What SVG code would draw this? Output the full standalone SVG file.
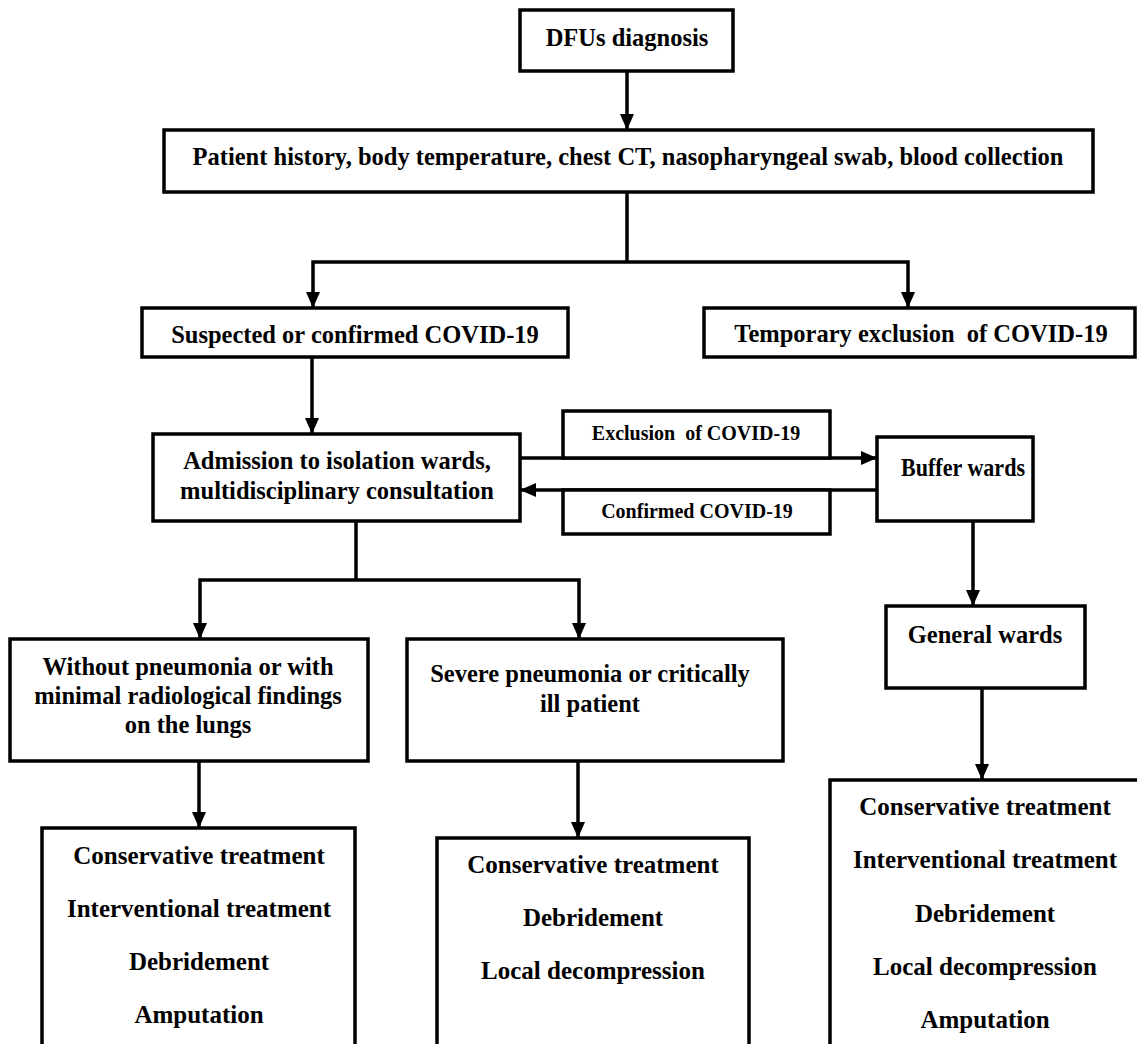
<svg xmlns="http://www.w3.org/2000/svg" width="1137" height="1044" viewBox="0 0 1137 1044">
<style>
.box{fill:#fff;stroke:#000;stroke-width:3.5}
.t{font-family:"Liberation Serif","Times New Roman",serif;font-weight:bold;font-size:24.5px;fill:#000;text-anchor:middle;white-space:pre}
.s{font-size:20px}
.r{font-size:25px}
.c{fill:none;stroke:#000;stroke-width:3.5}
</style>
<defs>
<marker id="ah" markerUnits="userSpaceOnUse" markerWidth="16" markerHeight="16" viewBox="0 0 16 16" refX="16" refY="8" orient="auto">
<path d="M0,1 L16,8 L0,15 z" fill="#000"/>
</marker>
</defs>
<rect width="1137" height="1044" fill="#fff"/>
<g id="connectors">
<path class="c" d="M627,71 V130" marker-end="url(#ah)"/>
<path class="c" d="M627,192 V262"/>
<path class="c" d="M627,262 H313 V308" marker-end="url(#ah)"/>
<path class="c" d="M627,262 H908 V308" marker-end="url(#ah)"/>
<path class="c" d="M312,357 V434" marker-end="url(#ah)"/>
<path class="c" d="M520,458 H877" marker-end="url(#ah)"/>
<path class="c" d="M877,490 H520" marker-end="url(#ah)"/>
<path class="c" d="M973,521 V606" marker-end="url(#ah)"/>
<path class="c" d="M356,521 V580"/>
<path class="c" d="M356,580 H200 V639" marker-end="url(#ah)"/>
<path class="c" d="M356,580 H579 V639" marker-end="url(#ah)"/>
<path class="c" d="M982,688 V780" marker-end="url(#ah)"/>
<path class="c" d="M199,761 V828" marker-end="url(#ah)"/>
<path class="c" d="M578,761 V838" marker-end="url(#ah)"/>
</g>
<g id="dfus">
<rect class="box" x="520" y="10" width="213" height="61"/>
<text class="t" x="627" y="46">DFUs diagnosis</text>
</g>
<g id="patient">
<rect class="box" x="164" y="130" width="929" height="62"/>
<text class="t" x="628" y="165">Patient history, body temperature, chest CT, nasopharyngeal swab, blood collection</text>
</g>
<g id="suspected">
<rect class="box" x="142" y="308" width="426" height="49"/>
<text class="t" x="355" y="343">Suspected or confirmed COVID-19</text>
</g>
<g id="temporary">
<rect class="box" x="704" y="308" width="431" height="49"/>
<text class="t" x="921" y="342">Temporary exclusion  of COVID-19</text>
</g>
<g id="admission">
<rect class="box" x="153" y="434" width="367" height="87"/>
<text class="t" x="337" y="469">Admission to isolation wards,</text>
<text class="t" x="337" y="499">multidisciplinary consultation</text>
</g>
<g id="exclusion-label">
<rect class="box" x="563" y="411" width="267" height="47"/>
<text class="t s" x="696" y="440">Exclusion  of COVID-19</text>
</g>
<g id="confirmed-label">
<rect class="box" x="563" y="490" width="267" height="44"/>
<text class="t s" x="697" y="518">Confirmed COVID-19</text>
</g>
<g id="buffer">
<rect class="box" x="877" y="437" width="156" height="84"/>
<text class="t" x="963" y="476" textLength="124" lengthAdjust="spacingAndGlyphs">Buffer wards</text>
</g>
<g id="general">
<rect class="box" x="886" y="606" width="199" height="82"/>
<text class="t" x="985" y="643">General wards</text>
</g>
<g id="without">
<rect class="box" x="10" y="639" width="358" height="122"/>
<text class="t" x="188" y="675">Without pneumonia or with</text>
<text class="t" x="188" y="704">minimal radiological findings</text>
<text class="t" x="188" y="733">on the lungs</text>
</g>
<g id="severe">
<rect class="box" x="407" y="639" width="376" height="122"/>
<text class="t" x="590" y="682">Severe pneumonia or critically</text>
<text class="t" x="590" y="712">ill patient</text>
</g>
<g id="treat-left">
<rect class="box" x="42" y="828" width="313" height="240"/>
<text class="t r" x="199" y="864">Conservative treatment</text>
<text class="t r" x="199" y="917">Interventional treatment</text>
<text class="t r" x="199" y="970">Debridement</text>
<text class="t r" x="199" y="1023">Amputation</text>
</g>
<g id="treat-middle">
<rect class="box" x="437" y="838" width="312" height="230"/>
<text class="t r" x="593" y="873">Conservative treatment</text>
<text class="t r" x="593" y="926">Debridement</text>
<text class="t r" x="593" y="979">Local decompression</text>
</g>
<g id="treat-right">
<rect class="box" x="830" y="780" width="320" height="290"/>
<text class="t r" x="985" y="815">Conservative treatment</text>
<text class="t r" x="985" y="868">Interventional treatment</text>
<text class="t r" x="985" y="922">Debridement</text>
<text class="t r" x="985" y="975">Local decompression</text>
<text class="t r" x="985" y="1028">Amputation</text>
</g>
</svg>
